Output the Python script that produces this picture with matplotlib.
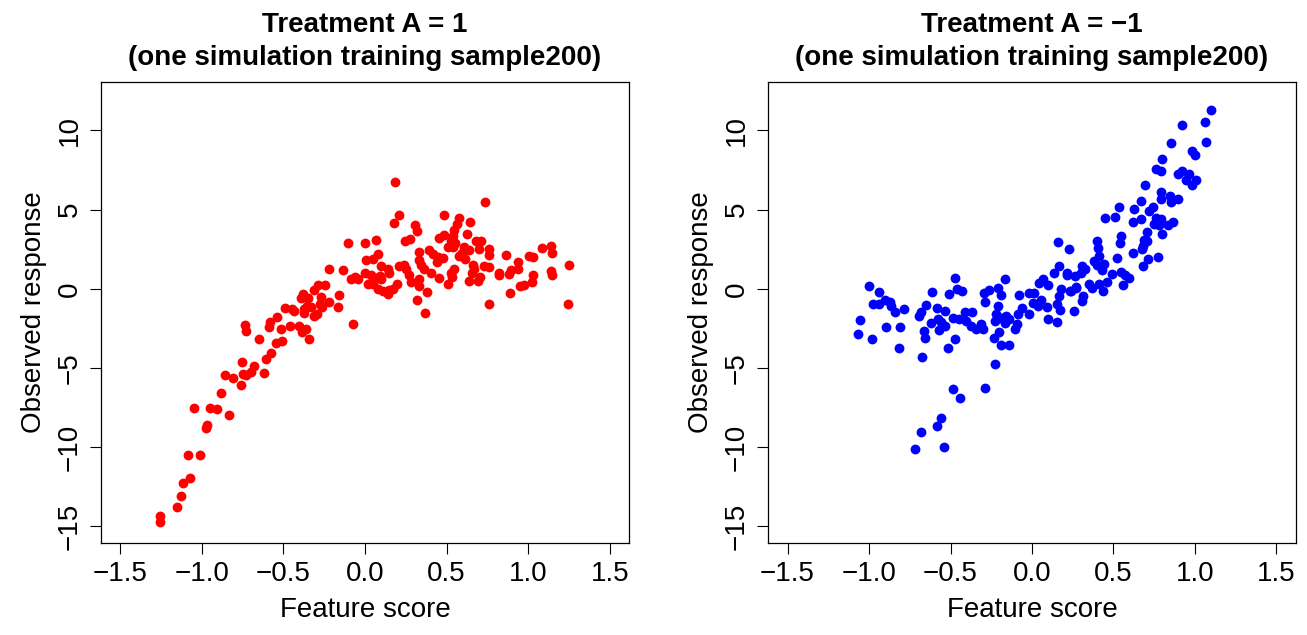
import numpy as np
import matplotlib
matplotlib.use("Agg")
import matplotlib.pyplot as plt

plt.rcParams['font.family'] = ['Liberation Sans', 'DejaVu Sans']

# Treatment A = 1 (red)
x_a1 = [-1.258, -1.258, -1.155, -1.125, -1.117, -1.070, -1.084, -1.013, -0.972, -0.966,
        -1.048, -0.952, -0.905, -0.831, -0.884, -0.856, -0.807, -0.762, -0.754, -0.748,
        -0.727, -0.697, -0.682, -0.621, -0.609, -0.574, -0.650, -0.737, -0.727, -0.591,
        -0.580, -0.544, -0.509, -0.537, -0.515, -0.488, -0.462, -0.446, -0.433, -0.405,
        -0.395, -0.382, -0.387, -0.360, -0.344, -0.376, -0.372, -0.356, -0.348, -0.330,
        -0.315, -0.311, -0.295, -0.289, -0.278, -0.270, -0.266, -0.246, -0.219, -0.219,
        -0.164, -0.158, -0.136, -0.107, -0.084, -0.062, -0.042, -0.075, 0.001, 0.007,
        -0.001, 0.017,
        0.185, 0.737, 0.211, 0.180, 0.487, 0.578, 0.641, 0.309, 0.317, 0.564,
        0.548, 0.623, 0.068, 0.248, 0.277, 0.456, 0.487, 0.542, 0.528, 0.554,
        0.507, 0.538, 0.680, 0.713, 0.697, 0.762, 0.758, 0.609, 0.640, 0.595,
        0.578, 0.611, 0.078, 0.048, 0.330, 0.391, 0.415, 0.446, 0.476, 0.330,
        0.344, 0.360, 0.440, 0.864, 1.007, 1.031, 1.082, 1.143, 1.149, 1.251,
        0.939, 0.935, 0.895, 0.880, 0.823, 0.819, 0.731, 0.762, 0.664, 0.670,
        0.656, 0.705, 0.695, 0.640, 1.031, 1.023, 1.139, 1.149, 0.952, 0.976,
        0.889, 0.758, 1.244, 0.548, 0.528, 0.534, 0.511, 0.456, 0.405, 0.380,
        0.366, 0.317, 0.330, 0.334, 0.279, 0.272, 0.252, 0.236, 0.211, 0.195,
        0.170, 0.150, 0.140, 0.109, 0.078, 0.099, 0.089, 0.068, 0.038, 0.048,
        0.140, 0.099, 0.150]
y_a1 = [-14.36, -14.71, -13.76, -13.09, -12.29, -11.93, -10.50, -10.50, -8.82, -8.63,
        -7.54, -7.54, -7.58, -7.98, -6.59, -5.47, -5.66, -6.10, -4.61, -5.41,
        -5.47, -5.24, -4.89, -5.35, -4.46, -4.08, -3.20, -2.30, -2.68, -2.40,
        -2.09, -3.45, -3.31, -1.77, -2.53, -1.24, -2.36, -1.31, -1.39, -2.36,
        -0.57, -0.36, -2.71, -2.57, -3.20, -1.31, -1.56, -1.10, -0.57, -1.16,
        -0.09, -1.73, -1.62, 0.21, -0.99, -0.53, -1.14, 0.21, 1.22, -0.82,
        -1.14, -0.38, 1.16, 2.86, 0.63, 0.76, 0.59, -2.23, 2.86, 1.81,
        1.01, 0.27,
        6.75, 5.47, 4.67, 4.17, 4.69, 4.50, 4.23, 4.00, 3.68, 4.06,
        3.74, 3.49, 3.05, 3.01, 3.16, 3.18, 3.38, 3.32, 3.01, 2.86,
        2.65, 2.65, 3.01, 3.01, 2.53, 2.54, 2.12, 2.65, 2.42, 2.27,
        2.10, 1.89, 2.21, 1.85, 2.31, 2.44, 2.17, 2.02, 1.96, 1.81,
        1.53, 1.22, 1.68, 2.15, 2.10, 2.00, 2.56, 2.73, 2.27, 1.47,
        1.72, 1.22, 1.16, 0.95, 1.01, 0.84, 1.43, 1.37, 1.53, 1.26,
        1.01, 0.76, 0.52, 0.52, 0.90, 0.44, 1.11, 0.84, 0.16, 0.21,
        -0.25, -0.99, -0.99, 1.22, 0.97, 0.76, 0.33, 0.69, 0.97, -0.19,
        -1.56, -0.74, 0.59, 0.16, 0.42, 0.84, 1.22, 1.53, 1.43, 0.32,
        0.00, -0.11, -0.36, -0.15, -0.04, 0.59, 0.80, 0.69, 0.84, 0.27,
        1.22, 1.43, 1.01]

# Treatment A = -1 (blue)
x_am1 = [-1.000, -0.939, -0.976, -0.939, -0.904, -1.058, -1.069, -0.980, -0.894,
         -0.874, -0.864, -0.839, -0.783, -0.807, -0.817, -0.676, -0.613, -0.649, -0.680,
         -0.694, -0.664, -0.654, -0.619, -0.584, -0.568, -0.579, -0.558, -0.532, -0.536,
         -0.517, -0.474, -0.507, -0.470, -0.462, -0.429, -0.482, -0.451, -0.410, -0.406,
         -0.369, -0.375, -0.344, -0.314, -0.303, -0.297, -0.262, -0.287, -0.211, -0.190,
         -0.166, -0.207, -0.221, -0.225, -0.190, -0.160, -0.140, -0.166, -0.201, -0.231,
         -0.190, -0.140, -0.105, -0.094, -0.225, -0.291, -0.486, -0.441, -0.560, -0.584,
         -0.682, -0.715, -0.543, -0.078, -0.062, -0.083, -0.021, -0.017, 0.013, 0.007,
         0.044, 0.068, 0.099, 0.054, 0.034, 0.095, 0.101, 0.156, 0.156, 0.136,
         0.166, 0.177, 0.172, 0.217, 0.232, 0.258, 0.269,
         1.098, 1.064, 0.921, 1.070, 0.856, 0.979, 1.003, 0.799, 0.759, 0.789,
         0.921, 0.896, 0.962, 0.942, 1.009, 0.982, 0.694, 0.789, 0.789, 0.844,
         0.850, 0.895, 0.666, 0.534, 0.626, 0.717, 0.742, 0.509, 0.448, 0.666,
         0.619, 0.759, 0.789, 0.748, 0.780, 0.837, 0.866, 0.707, 0.795, 0.544,
         0.538, 0.687, 0.683, 0.703, 0.676, 0.774, 0.713, 0.680, 0.621, 0.401,
         0.407, 0.159, 0.224, 0.523, 0.411, 0.381, 0.397, 0.442, 0.428, 0.309,
         0.324, 0.299, 0.166, 0.216, 0.266, 0.493, 0.548, 0.571, 0.596, 0.560,
         0.459, 0.411, 0.350, 0.366, 0.436, 0.314, 0.306, 0.272, 0.238]
y_am1 = [0.16, -0.19, -0.99, -0.99, -0.68, -2.00, -2.84, -3.16, -2.42,
         -0.82, -1.10, -1.48, -1.31, -2.42, -3.72, -4.29, -0.21, -1.05, -1.48,
         -1.73, -2.68, -3.09, -2.19, -1.24, -2.63, -1.94, -2.11, -1.41, -2.36,
         -3.72, -3.20, -0.32, 0.69, -0.04, -0.15, -1.83, -1.94, -1.48, -2.04,
         -1.45, -2.36, -2.57, -2.21, -2.53, -0.25, -0.09, -0.82, 0.02, -0.40,
         0.59, -1.10, -1.62, -2.04, -1.83, -1.73, -1.94, -2.15, -2.74, -3.09,
         -3.58, -3.56, -2.57, -2.25, -4.78, -6.25, -6.31, -6.93, -8.19, -8.67,
         -9.05, -10.15, -9.98, -0.42, -1.20, -1.62, -1.62, -0.25, -0.25, -0.88,
         0.38, 0.59, 0.21, -0.68, -1.10, -1.16, -1.88, -2.08, -0.99, 1.01,
         -0.47, -0.04, -1.37, 0.90, -0.15, -1.41, 0.06,
         11.32, 10.52, 10.37, 9.26, 9.22, 8.73, 8.42, 8.21, 7.59, 7.42,
         7.47, 7.22, 7.28, 6.90, 6.90, 6.58, 6.54, 6.10, 5.68, 5.85,
         5.47, 5.68, 5.53, 5.18, 5.01, 4.94, 5.18, 4.55, 4.44, 4.38,
         4.20, 4.44, 4.42, 4.06, 4.00, 4.00, 4.20, 3.60, 3.43, 3.32,
         2.86, 3.11, 2.69, 3.01, 2.53, 2.02, 1.89, 1.43, 2.27, 3.01,
         2.59, 2.94, 2.48, 1.96, 2.06, 1.74, 1.49, 1.58, 1.16, 1.43,
         1.22, 1.01, 1.43, 0.97, 0.80, 0.95, 1.05, 0.84, 0.69, 0.23,
         0.42, 0.32, 0.27, 0.02, -0.15, -0.47, -0.78, 0.10, -0.15]

titles = ["Treatment A = 1\n(one simulation training sample200)",
          "Treatment A = \u22121\n(one simulation training sample200)"]
xticks = [-1.5, -1.0, -0.5, 0.0, 0.5, 1.0, 1.5]
yticks = [-15, -10, -5, 0, 5, 10]

W, H = 1307, 635
fig = plt.figure(figsize=(W / 100, H / 100), dpi=100)
boxes = [[100.7 / W, 91.7 / H, 528.6 / W, 461.6 / H],
         [768.0 / W, 91.7 / H, 528.0 / W, 461.6 / H]]

panels = [(x_a1, y_a1, 'red'), (x_am1, y_am1, 'blue')]
for box, (xs, ys, col), title in zip(boxes, panels, titles):
    ax = fig.add_axes(box)
    ax.scatter(xs, ys, s=50, color=col, linewidths=0)
    ax.set_xlim(-1.5 - 0.12, 1.5 + 0.12)
    ax.set_ylim(-15 - 1.08, 12 + 1.08)
    ax.set_xticks(xticks)
    ax.set_xticklabels(['\u22121.5', '\u22121.0', '\u22120.5', '0.0', '0.5', '1.0', '1.5'])
    ax.set_yticks(yticks)
    ax.set_yticklabels(['\u221215', '\u221210', '\u22125', '0', '5', '10'],
                       rotation=90, va='center')
    ax.tick_params(length=8, width=0.8, labelsize=20, pad=5)
    for sp in ax.spines.values():
        sp.set_linewidth(0.9)
    ax.set_xlabel('Feature score', fontsize=20, labelpad=7)
    ax.set_ylabel('Observed response', fontsize=20, labelpad=7)
    ax.set_title(title, fontsize=20, fontweight='bold', pad=12, linespacing=1.35)

fig.savefig('out.png', dpi=100)
